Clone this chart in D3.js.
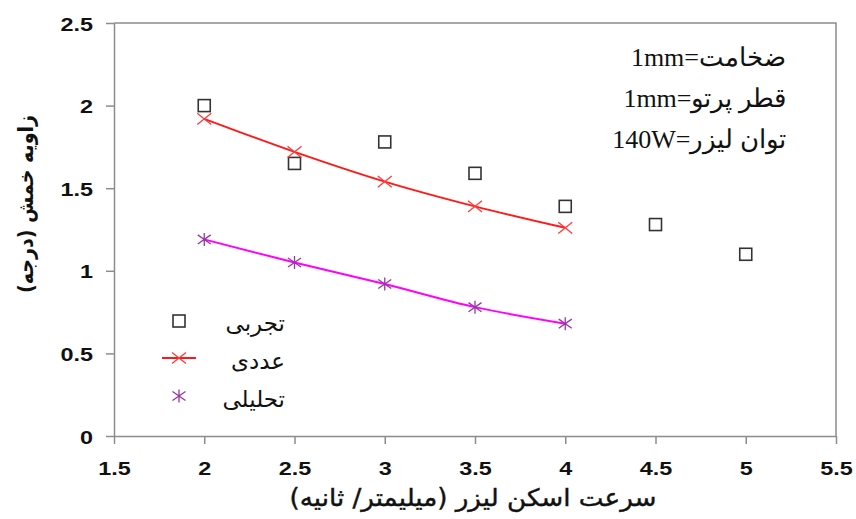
<!DOCTYPE html>
<html>
<head>
<meta charset="utf-8">
<script src="https://cdn.jsdelivr.net/npm/d3@7"></script>
<style>
  html, body { margin: 0; padding: 0; background: #fff; }
  svg { display: block; }
</style>
</head>
<body>
<svg id="chart" width="856" height="519"></svg>
<script>
// Laser scan speed (mm/s) vs. bending angle (deg)
const speedExp = [2, 2.5, 3, 3.5, 4, 4.5, 5];
const angleExp = [2.0, 1.65, 1.78, 1.59, 1.39, 1.28, 1.10];

const speedModel = [2, 2.5, 3, 3.5, 4];
const angleNumeric = [1.92, 1.72, 1.54, 1.39, 1.26];
const angleAnalytic = [1.19, 1.05, 0.92, 0.78, 0.68];

const xTicks = [1.5, 2, 2.5, 3, 3.5, 4, 4.5, 5, 5.5];
const yTicks = [0, 0.5, 1, 1.5, 2, 2.5];

const legendLabels = ["تجربی", "عددی", "تحلیلی"];
const noteLines = ["ضخامت=1mm", "قطر پرتو=1mm", "توان لیزر=140W"];
const xTitle = "سرعت اسکن لیزر (میلیمتر/ ثانیه)";
const yTitle = "زاویه خمش (درجه)";

const svg = d3.select("#chart");
const m = { left: 114, right: 836, top: 23, bottom: 436 };

const x = d3.scaleLinear().domain([1.5, 5.5]).range([m.left, m.right]);
const y = d3.scaleLinear().domain([0, 2.5]).range([m.bottom, m.top]);

const axisColor = "#8c8c8c";
const tickFont = "'Liberation Sans', Arial, sans-serif";

// frame (top and right edges)
svg.append("path")
  .attr("d", `M${m.left},${m.top}H${m.right}V${m.bottom}`)
  .attr("fill", "none").attr("stroke", axisColor).attr("stroke-width", 1.5);

// x axis
const gx = svg.append("g").attr("transform", `translate(0,${m.bottom})`)
  .call(d3.axisBottom(x).tickValues(xTicks).tickSize(8).tickSizeOuter(0)
    .tickFormat(d => String(d)));
// y axis
const gy = svg.append("g").attr("transform", `translate(${m.left},0)`)
  .call(d3.axisLeft(y).tickValues(yTicks).tickSize(8).tickSizeOuter(0)
    .tickFormat(d => String(d)));

[gx, gy].forEach(g => {
  g.select(".domain").attr("stroke", axisColor).attr("stroke-width", 1.5);
  g.selectAll(".tick line").attr("stroke", axisColor).attr("stroke-width", 1.5);
  g.selectAll(".tick text")
    .attr("fill", "#111")
    .style("font-family", tickFont)
    .style("font-weight", "bold")
    .style("font-size", "18px");
});
gx.selectAll(".tick text").attr("y", 0).attr("dy", 0)
  .attr("transform", "translate(0,39) scale(1.3,1)");
gy.selectAll(".tick text").attr("x", 0).attr("dy", 0)
  .attr("transform", "translate(-21,7) scale(1.3,1)");

// model curves
const lineGen = d3.line().curve(d3.curveMonotoneX)
  .x(d => x(d[0])).y(d => y(d[1]));

svg.append("path")
  .datum(speedModel.map((s, i) => [s, angleNumeric[i]]))
  .attr("d", lineGen)
  .attr("fill", "none").attr("stroke", "#ff1a1a").attr("stroke-width", 2);

svg.append("path")
  .datum(speedModel.map((s, i) => [s, angleAnalytic[i]]))
  .attr("d", lineGen)
  .attr("fill", "none").attr("stroke", "#ff00ff").attr("stroke-width", 2);

// marker helpers
function square(g, cx, cy) {
  g.append("rect").attr("x", cx - 6).attr("y", cy - 6)
    .attr("width", 12).attr("height", 12)
    .attr("fill", "none").attr("stroke", "#333").attr("stroke-width", 1.6);
}
function cross(g, cx, cy) {
  const r = 7;
  g.append("path")
    .attr("d", `M${cx - r},${cy - r * 0.8}L${cx + r},${cy + r * 0.8}M${cx - r},${cy + r * 0.8}L${cx + r},${cy - r * 0.8}`)
    .attr("stroke", "#ff3b3b").attr("stroke-width", 1.3).attr("fill", "none");
}
function star(g, cx, cy) {
  const r = 6.5;
  g.append("path")
    .attr("d", `M${cx},${cy - r}V${cy + r}M${cx - r},${cy - r * 0.7}L${cx + r},${cy + r * 0.7}M${cx - r},${cy + r * 0.7}L${cx + r},${cy - r * 0.7}`)
    .attr("stroke", "#9a35a6").attr("stroke-width", 1.3).attr("fill", "none");
}

const marks = svg.append("g");
speedExp.forEach((s, i) => square(marks, x(s), y(angleExp[i])));
speedModel.forEach((s, i) => cross(marks, x(s), y(angleNumeric[i])));
speedModel.forEach((s, i) => star(marks, x(s), y(angleAnalytic[i])));

// legend
const arabicFont = "'DejaVu Sans', 'Noto Sans', sans-serif";
const lg = svg.append("g");
square(lg, 179, 321);
lg.append("line").attr("x1", 162).attr("x2", 196).attr("y1", 358).attr("y2", 358)
  .attr("stroke", "#ff1a1a").attr("stroke-width", 2);
cross(lg, 179, 358);
star(lg, 179, 396);
[323, 361, 399].forEach((yy, i) => {
  lg.append("text")
    .attr("x", 285).attr("y", yy + 8)
    .attr("direction", "rtl").attr("text-anchor", "start")
    .style("font-family", arabicFont).style("font-size", "23px").attr("fill", "#111")
    .text(legendLabels[i]);
});

// parameter notes
noteLines.forEach((t, i) => {
  svg.append("text")
    .attr("x", 786).attr("y", 66 + i * 41)
    .attr("direction", "rtl").attr("text-anchor", "start")
    .style("font-family", "'Liberation Serif', 'DejaVu Serif', serif")
    .style("font-size", "26px").attr("fill", "#111")
    .text(t);
});

// axis titles
svg.append("text")
  .attr("x", 473).attr("y", 506)
  .attr("direction", "rtl").attr("text-anchor", "middle")
  .attr("textLength", 367).attr("lengthAdjust", "spacingAndGlyphs")
  .style("font-family", arabicFont).style("font-size", "24px")
  .attr("fill", "#111").attr("stroke", "#111").attr("stroke-width", 0.4)
  .text(xTitle);

svg.append("text")
  .attr("transform", "translate(33,204) rotate(-90)")
  .attr("direction", "rtl").attr("text-anchor", "middle")
  .attr("textLength", 178).attr("lengthAdjust", "spacingAndGlyphs")
  .style("font-family", arabicFont).style("font-size", "21px").style("font-weight", "bold")
  .attr("fill", "#111")
  .text(yTitle);
</script>
</body>
</html>
